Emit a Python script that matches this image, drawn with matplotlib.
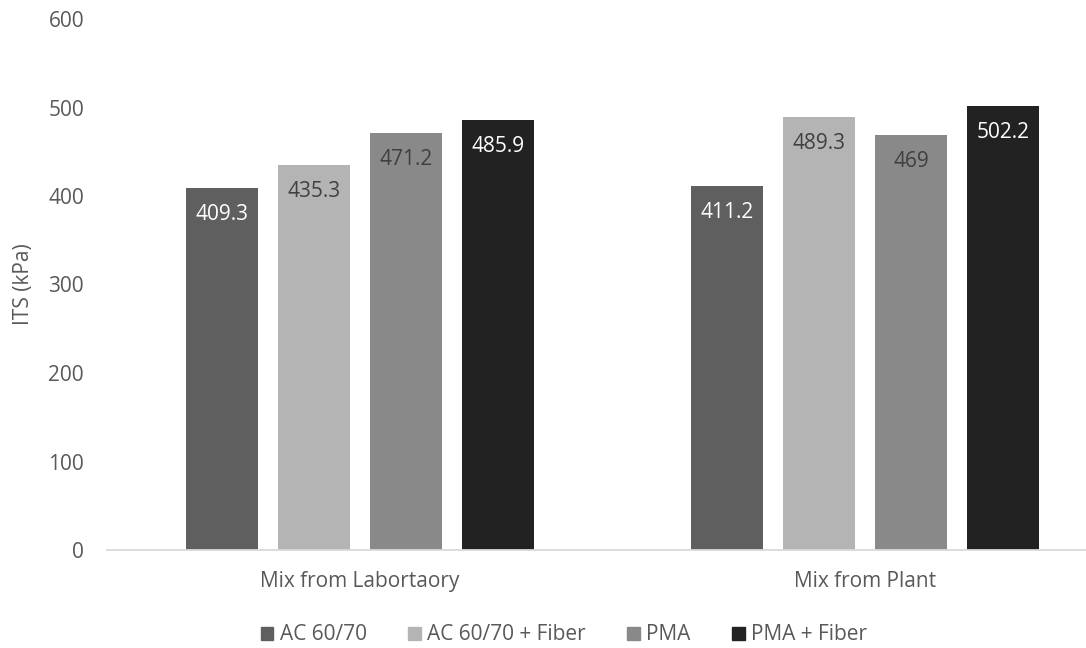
import numpy as np
import matplotlib
matplotlib.use("Agg")
import matplotlib.pyplot as plt
from matplotlib.patches import Patch

plt.rcParams['font.family'] = ['Open Sans', 'DejaVu Sans']

groups = ["Mix from Labortaory", "Mix from Plant"]
series = ["AC 60/70", "AC 60/70 + Fiber", "PMA", "PMA + Fiber"]
values = [
    [409.3, 411.2],
    [435.3, 489.3],
    [471.2, 469],
    [485.9, 502.2],
]
labels = [
    ["409.3", "411.2"],
    ["435.3", "489.3"],
    ["471.2", "469"],
    ["485.9", "502.2"],
]
colors = ['#5f5f5f', '#b4b4b4', '#898989', '#222222']
label_colors = ['white', '#404040', '#404040', 'white']

fig = plt.figure(figsize=(10.86, 6.48), dpi=100)
ax = fig.add_axes([107 / 1086, 98 / 648, (1086 - 107) / 1086, 531 / 648])

x = np.arange(len(groups))
width = 0.1424
step = 0.182
for i, (name, vals) in enumerate(zip(series, values)):
    pos = x + (i - 1.5) * step
    bars = ax.bar(pos, vals, width, color=colors[i], label=name)
    for b, txt in zip(bars, labels[i]):
        ax.text(b.get_x() + b.get_width() / 2, b.get_height() - 30, txt,
                ha='center', va='center', fontsize=15, color=label_colors[i])

ax.set_xlim(-0.5, 1.437)
ax.set_ylim(0, 600)
ax.set_yticks(range(0, 601, 100))
ax.set_xticks(x)
ax.set_xticklabels(groups)
ax.tick_params(axis='both', length=0, labelsize=15, colors='#595959')
ax.tick_params(axis='y', pad=16.5)
ax.tick_params(axis='x', pad=15)
for s in ['top', 'right', 'left']:
    ax.spines[s].set_visible(False)
ax.spines['bottom'].set_color('#d9d9d9')
ax.spines['bottom'].set_linewidth(1.3)
ax.set_ylabel("ITS (kPa)", fontsize=15, color='#595959', labelpad=10)

handles = [Patch(color=c, label=s) for c, s in zip(colors, series)]
fig.legend(handles=handles, loc='center', bbox_to_anchor=(564 / 1086, 1 - 635 / 648),
           ncol=4, frameon=False, fontsize=15, handlelength=0.6, handleheight=0.6,
           handletextpad=0.3, columnspacing=2.0, labelcolor='#595959')

fig.savefig("out.png", dpi=100)
